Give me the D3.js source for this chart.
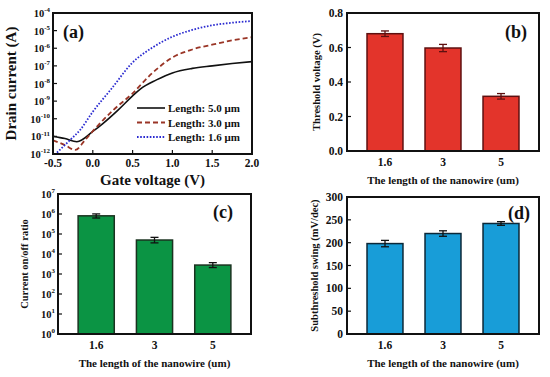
<!DOCTYPE html>
<html><head><meta charset="utf-8">
<script src="https://cdn.jsdelivr.net/npm/d3@7"></script>
<style>
body{margin:0;background:#fff}
svg{display:block}
text{font-family:"Liberation Serif","Times New Roman",serif;font-weight:bold;fill:#111}
</style>
</head><body>
<svg id="chart" width="550" height="377"></svg>
<script>
// ---------- DATA ----------
// (a) transfer curves: gate voltage (V) vs drain current (A)
const vg5 = [-0.5,-0.35,-0.2,0.0,0.13,0.32,0.49,0.6,0.8,1.0,1.25,1.5,1.75,2.0];
const id5 = [1.0e-11,7.5e-12,5.0e-12,1.9e-11,5.5e-11,3.2e-10,1.8e-9,5.0e-9,1.6e-8,4.0e-8,7.2e-8,1.0e-7,1.35e-7,1.75e-7];
const vg3 = [-0.5,-0.35,-0.22,-0.1,0.05,0.26,0.49,0.75,1.0,1.25,1.5,1.75,2.0];
const id3 = [6.0e-12,3.2e-12,1.7e-12,6.0e-12,3.5e-11,3.2e-10,2.5e-9,4.0e-8,3.0e-7,8.5e-7,1.6e-6,2.8e-6,4.2e-6];
const vg16 = [-0.45,-0.3,-0.16,0.0,0.24,0.49,0.75,1.0,1.25,1.5,1.75,2.0];
const id16 = [1.2e-12,5.4e-12,2.3e-11,2.5e-10,5.4e-9,1.4e-7,1.1e-6,4.5e-6,1.1e-5,2.0e-5,2.8e-5,3.5e-5];
const seriesLabels = ["Length: 5.0 \u03bcm","Length: 3.0 \u03bcm","Length: 1.6 \u03bcm"];
const xTicksA = [-0.5,0.0,0.5,1.0,1.5,2.0];
const yExpA = [-12,-11,-10,-9,-8,-7,-6,-5,-4];

// bar panels
const lengths = ["1.6","3","5"];
const threshold = [0.68,0.597,0.317];
const thresholdErr = [0.016,0.021,0.016];
const onoff = [8.1e5,5.0e4,2.8e3];
const onoffErrLow = [1.8e5,1.4e4,0.7e3];
const onoffErrHigh = [2.0e5,1.8e4,0.9e3];
const swing = [198,220,242];
const swingErr = [7,6,4];
const yTicksB = [0,0.2,0.4,0.6,0.8];
const yExpC = [0,1,2,3,4,5,6,7];
const yTicksD = [0,50,100,150,200,250,300];

const svg = d3.select("#chart");

function supLabel(g, x, y, exp, size, anchor){
  const t = g.append("text").attr("x",x).attr("y",y).attr("text-anchor",anchor||"end")
    .style("font-size",size+"px");
  t.append("tspan").text("10");
  t.append("tspan").attr("dy",-size*0.45).style("font-size",(size*0.66)+"px").text(exp);
  return t;
}

// ---------- PANEL (a) ----------
(function(){
  const L=53,R=252,T=13,B=154;
  const x = d3.scaleLinear([-0.5,2.0],[L,R]);
  const y = d3.scaleLog([1e-12,1e-4],[B,T]);
  const g = svg.append("g");
  g.append("clipPath").attr("id","clipA").append("rect").attr("x",L).attr("y",T).attr("width",R-L).attr("height",B-T);
  const line = d3.line().x(d=>x(d[0])).y(d=>y(d[1])).curve(d3.curveMonotoneX);
  const specs = [
    {v:vg5,i:id5,color:"#111",dash:null,w:1.6},
    {v:vg3,i:id3,color:"#9a3526",dash:"5,3",w:1.8},
    {v:vg16,i:id16,color:"#2a2ad0",dash:"1.6,1.6",w:1.8}
  ];
  const cg = g.append("g").attr("clip-path","url(#clipA)");
  specs.forEach(s=>{
    cg.append("path").datum(d3.zip(s.v,s.i)).attr("d",line)
      .attr("fill","none").attr("stroke",s.color).attr("stroke-width",s.w)
      .attr("stroke-dasharray",s.dash);
  });
  // ticks
  xTicksA.forEach(t=>{
    g.append("line").attr("x1",x(t)).attr("x2",x(t)).attr("y1",B).attr("y2",B-4).attr("stroke","#111").attr("stroke-width",1.2);
    g.append("text").attr("x",x(t)).attr("y",B+13).attr("text-anchor","middle").style("font-size","11.5px").text(t.toFixed(1));
  });
  yExpA.forEach(e=>{
    g.append("line").attr("x1",L).attr("x2",L+4).attr("y1",y(Math.pow(10,e))).attr("y2",y(Math.pow(10,e))).attr("stroke","#111").attr("stroke-width",1.2);
    supLabel(g, L-3, y(Math.pow(10,e))+4, String(e), 10.5);
  });
  g.append("rect").attr("x",L).attr("y",T).attr("width",R-L).attr("height",B-T).attr("fill","none").attr("stroke","#111").attr("stroke-width",2);
  // legend
  const ly=[108,122.5,137];
  specs.forEach((s,k)=>{
    g.append("line").attr("x1",137).attr("x2",165).attr("y1",ly[k]).attr("y2",ly[k])
      .attr("stroke",s.color).attr("stroke-width",s.w).attr("stroke-dasharray",s.dash);
    g.append("text").attr("x",168).attr("y",ly[k]+4).style("font-size","11px").text(seriesLabels[k]);
  });
  g.append("text").attr("x",63).attr("y",38).style("font-size","18px").text("(a)");
  g.append("text").attr("x",(L+R)/2).attr("y",185).attr("text-anchor","middle").style("font-size","15px").text("Gate voltage (V)");
  g.append("text").attr("transform","translate(16,"+((T+B)/2)+") rotate(-90)").attr("text-anchor","middle").style("font-size","15px").text("Drain current (A)");
})();

// ---------- bar panel helper ----------
function barPanel(opt){
  const {L,R,T,B,y,values,errLo,errHi,fill,stroke,errColor,ticks,tickFmt,logExp,ylabel,ylabelX,ylabelSize,tag,tagX,tagY} = opt;
  const g = svg.append("g");
  const x = d3.scaleBand(lengths,[L,R]).paddingInner(0.38).paddingOuter(0.345);
  const base = y.range()[0];
  g.selectAll("rect.bar").data(values).join("rect").attr("class","bar")
    .attr("x",(d,i)=>x(lengths[i])).attr("width",x.bandwidth())
    .attr("y",d=>y(d)).attr("height",d=>base-y(d))
    .attr("fill",fill).attr("stroke",stroke).attr("stroke-width",1.5);
  values.forEach((v,i)=>{
    const cx = x(lengths[i])+x.bandwidth()/2;
    const y1 = y(v+errHi[i]), y0 = y(v-errLo[i]);
    g.append("line").attr("x1",cx).attr("x2",cx).attr("y1",y1).attr("y2",y0).attr("stroke",errColor).attr("stroke-width",1.3);
    [y1,y0].forEach(yy=>g.append("line").attr("x1",cx-4).attr("x2",cx+4).attr("y1",yy).attr("y2",yy).attr("stroke",errColor).attr("stroke-width",1.3));
    g.append("text").attr("x",cx).attr("y",B+15).attr("text-anchor","middle").style("font-size","11.5px").text(lengths[i]);
  });
  ticks.forEach(t=>{
    g.append("line").attr("x1",L).attr("x2",L+4).attr("y1",y(t)).attr("y2",y(t)).attr("stroke","#111").attr("stroke-width",1.2);
    if(logExp){ supLabel(g, L-3, y(t)+4, String(Math.round(Math.log10(t))), 10.5); }
    else g.append("text").attr("x",L-4).attr("y",y(t)+4).attr("text-anchor","end").style("font-size","11.5px").text(tickFmt(t));
  });
  g.append("rect").attr("x",L).attr("y",T).attr("width",R-L).attr("height",B-T).attr("fill","none").attr("stroke","#111").attr("stroke-width",2);
  g.append("text").attr("x",(L+R)/2).attr("y",B+33).attr("text-anchor","middle").style("font-size","11px").text("The length of the nanowire (um)");
  g.append("text").attr("transform","translate("+ylabelX+","+((T+B)/2)+") rotate(-90)").attr("text-anchor","middle").style("font-size",ylabelSize+"px").text(ylabel);
  g.append("text").attr("x",tagX).attr("y",tagY).style("font-size","18px").text(tag);
}

// ---------- PANEL (b) ----------
barPanel({L:347,R:539,T:13,B:151,y:d3.scaleLinear([0,0.8],[151,13]),values:threshold,errLo:thresholdErr,errHi:thresholdErr,
  fill:"#e3342b",stroke:"#5e1010",errColor:"#5e1010",ticks:yTicksB,tickFmt:d=>d.toFixed(1),
  ylabel:"Threshold voltage (V)",ylabelX:320,ylabelSize:10.5,tag:"(b)",tagX:505,tagY:38});

// ---------- PANEL (c) ----------
barPanel({L:58,R:251,T:194,B:334,y:d3.scaleLog([1,1e7],[334,194]),values:onoff,errLo:onoffErrLow,errHi:onoffErrHigh,
  fill:"#0b9444",stroke:"#1a3320",errColor:"#111",ticks:yExpC.map(e=>Math.pow(10,e)),logExp:true,
  ylabel:"Current on/off ratio",ylabelX:28,ylabelSize:10.5,tag:"(c)",tagX:213,tagY:218});

// ---------- PANEL (d) ----------
barPanel({L:347,R:539,T:197,B:334,y:d3.scaleLinear([0,300],[334,197]),values:swing,errLo:swingErr,errHi:swingErr,
  fill:"#189dd8",stroke:"#0c2838",errColor:"#111",ticks:yTicksD,tickFmt:d=>String(d),
  ylabel:"Subthreshold swing (mV/dec)",ylabelX:318,ylabelSize:10.5,tag:"(d)",tagX:508,tagY:219});
</script>
</body></html>
